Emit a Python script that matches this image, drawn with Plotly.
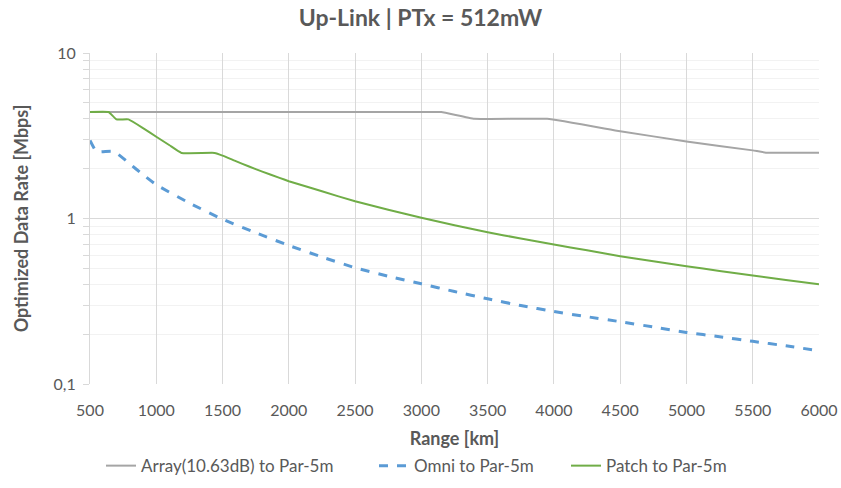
import plotly.graph_objects as go

# Range [km] and optimized up-link data rate [Mbps] per antenna configuration
array_range = [500, 1000, 1500, 2000, 2500, 3000, 3150, 3400, 3950, 4500, 5000, 5500, 5600, 6000]
array_rate = [4.4, 4.4, 4.4, 4.4, 4.4, 4.4, 4.4, 4.0, 4.0, 3.37, 2.92, 2.58, 2.5, 2.5]

omni_range = [500, 550, 680, 800, 900, 1000, 1250, 1500, 1750, 2000, 2250, 2500, 2750,
              3000, 3250, 3500, 3750, 4000, 4250, 4500, 4750, 5000, 5250, 5500, 5750, 6000]
omni_rate = [2.96, 2.54, 2.54, 2.14, 1.84, 1.60, 1.24, 0.99, 0.82, 0.687, 0.585, 0.504, 0.448,
             0.403, 0.362, 0.327, 0.298, 0.274, 0.255, 0.238, 0.221, 0.205, 0.193, 0.181, 0.170, 0.159]

patch_range = [500, 640, 700, 790, 900, 1000, 1100, 1190, 1440, 1500, 1600, 1700, 1800, 1930,
               2000, 2250, 2500, 2750, 3000, 3250, 3500, 3750, 4000, 4250, 4500, 4750, 5000,
               5250, 5500, 5750, 6000]
patch_rate = [4.4, 4.4, 3.97, 3.97, 3.52, 3.12, 2.77, 2.49, 2.49, 2.40, 2.22, 2.06, 1.92, 1.76,
              1.68, 1.46, 1.27, 1.13, 1.01, 0.91, 0.826, 0.757, 0.697, 0.642, 0.592, 0.551, 0.515,
              0.482, 0.452, 0.425, 0.401]

x_ticks = list(range(500, 6001, 500))
y_ticks = [0.1, 1, 10]
y_tick_labels = ["0,1", "1", "10"]
y_minor = [m * d for d in (0.1, 1) for m in range(2, 10)]

FONT = "Lato, 'Open Sans', sans-serif"
TEXT = "#595959"

fig = go.Figure()
fig.add_trace(go.Scatter(x=array_range, y=array_rate, mode="lines",
                         name="Array(10.63dB) to Par-5m", legend="legend",
                         line=dict(color="#a5a5a5", width=2, shape="spline", smoothing=0.3)))
fig.add_trace(go.Scatter(x=omni_range, y=omni_rate, mode="lines",
                         name="Omni to Par-5m", legend="legend2",
                         line=dict(color="#5b9bd5", width=3, dash="dash", shape="spline", smoothing=0.5)))
fig.add_trace(go.Scatter(x=patch_range, y=patch_rate, mode="lines",
                         name="Patch to Par-5m", legend="legend3",
                         line=dict(color="#70ad47", width=2, shape="spline", smoothing=0.3)))

# one legend box per series so the entries sit where they belong under the plot
legend_style = dict(orientation="h", xanchor="left", y=-0.248, yanchor="middle",
                    font=dict(size=17, color=TEXT), itemwidth=30, bgcolor="rgba(0,0,0,0)")

fig.update_layout(
    width=841, height=488,
    margin=dict(l=90, r=22, t=53, b=104, autoexpand=False),
    paper_bgcolor="white", plot_bgcolor="white",
    font=dict(family=FONT, color=TEXT, size=16),
    title=dict(text="<b>Up-Link | PTx = 512mW</b>", x=0.5, xanchor="center",
               y=0.963, yanchor="middle", font=dict(size=23, color=TEXT, family=FONT)),
    showlegend=True,
    legend=dict(x=(101 - 90) / 729, **legend_style),
    legend2=dict(x=(374 - 90) / 729, **legend_style),
    legend3=dict(x=(566 - 90) / 729, **legend_style),
)

fig.update_xaxes(
    range=[500, 6000], tickvals=x_ticks, ticks="", showline=False, automargin=False,
    showgrid=True, gridcolor="#d9d9d9", gridwidth=1, zeroline=False,
    tickfont=dict(size=16, color=TEXT), ticklabelstandoff=15,
    title=dict(text="<b>Range [km]</b>", font=dict(size=18, color=TEXT), standoff=14),
)
fig.update_yaxes(
    type="log", range=[-1, 1], tickvals=y_ticks, ticktext=y_tick_labels, automargin=False,
    ticks="outside", ticklen=6, tickcolor="#d9d9d9",
    showline=True, linecolor="#d9d9d9", linewidth=1,
    showgrid=True, gridcolor="#d9d9d9", gridwidth=1, zeroline=False,
    minor=dict(tickvals=y_minor, ticks="outside", ticklen=6, tickcolor="#d9d9d9",
               showgrid=True, gridcolor="#f2f2f2"),
    tickfont=dict(size=16, color=TEXT), ticklabelstandoff=4,
    title=dict(text="<b>Optimized Data Rate [Mbps]</b>", font=dict(size=18, color=TEXT), standoff=20),
)

fig.write_html("out.html")
